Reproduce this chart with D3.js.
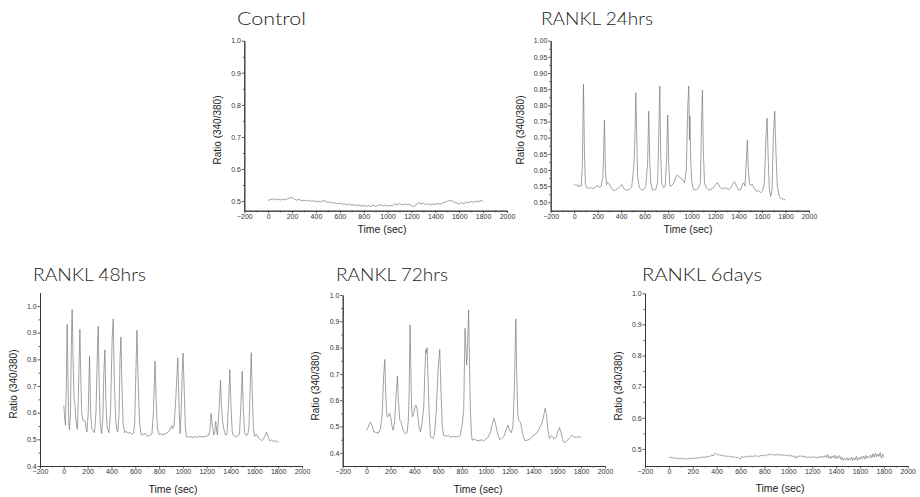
<!DOCTYPE html>
<html>
<head>
<meta charset="utf-8">
<script src="https://cdn.jsdelivr.net/npm/d3@7"></script>
<style>
  body { margin: 0; background: #fff; }
  .tick text { font-family: "Liberation Sans", Arial, sans-serif; font-size: 7px; fill: #333; }
  .axis path, .axis line { stroke: #333; }
  .title { font-family: Lato, "Open Sans", sans-serif; font-weight: 300; font-size: 18.5px; fill: #222; }
  .atitle { font-family: "Liberation Sans", Arial, sans-serif; font-size: 10.5px; fill: #222; }
</style>
</head>
<body>
<svg id="chart" width="920" height="497"></svg>
<script>
// x ticks shared by all five panels
const xTicks = [-200, 0, 200, 400, 600, 800, 1000, 1200, 1400, 1600, 1800, 2000];
const xMinor = [-100, 100, 300, 500, 700, 900, 1100, 1300, 1500, 1700, 1900];

// Control, sampled every 20 s
const controlRatio = [
  0.502,0.505,0.507,0.504,0.506,0.503,0.506,0.504,0.507,0.509,
  0.512,0.506,0.503,0.505,0.501,0.503,0.500,0.503,0.499,0.501,
  0.498,0.500,0.497,0.502,0.499,0.496,0.497,0.493,0.495,0.491,
  0.494,0.490,0.492,0.488,0.491,0.487,0.489,0.485,0.488,0.484,
  0.487,0.483,0.486,0.484,0.487,0.483,0.486,0.489,0.485,0.488,
  0.484,0.487,0.485,0.491,0.489,0.492,0.488,0.491,0.489,0.490,
  0.486,0.483,0.489,0.495,0.491,0.493,0.489,0.492,0.488,0.491,
  0.489,0.493,0.490,0.494,0.497,0.499,0.503,0.500,0.496,0.494,
  0.491,0.495,0.492,0.497,0.495,0.499,0.496,0.500,0.498,0.502,
  0.499
];

// RANKL 6days, sampled every 10 s
const sixDaysRatio = [
  0.473,0.471,0.474,0.470,0.472,0.469,0.471,0.468,0.470,0.469,
  0.471,0.467,0.470,0.468,0.469,0.466,0.470,0.468,0.471,0.467,
  0.469,0.472,0.468,0.471,0.469,0.473,0.470,0.474,0.471,0.475,
  0.472,0.476,0.473,0.477,0.474,0.478,0.480,0.477,0.482,0.487,
  0.483,0.480,0.482,0.478,0.481,0.477,0.479,0.476,0.478,0.475,
  0.477,0.474,0.476,0.473,0.475,0.472,0.474,0.471,0.473,0.469,
  0.467,0.476,0.472,0.475,0.473,0.477,0.474,0.478,0.475,0.477,
  0.474,0.478,0.476,0.479,0.475,0.478,0.476,0.480,0.477,0.479,
  0.478,0.481,0.479,0.483,0.480,0.484,0.481,0.483,0.479,0.482,
  0.480,0.484,0.479,0.482,0.478,0.483,0.479,0.481,0.477,0.480,
  0.478,0.481,0.476,0.479,0.475,0.478,0.470,0.476,0.473,0.478,
  0.475,0.479,0.474,0.477,0.473,0.476,0.472,0.475,0.471,0.474,
  0.472,0.476,0.471,0.474,0.470,0.475,0.472,0.477,0.471,0.476,
  0.473,0.479,0.472,0.482,0.470,0.477,0.469,0.478,0.471,0.480,
  0.468,0.476,0.470,0.479,0.466,0.473,0.463,0.470,0.465,0.472,
  0.463,0.470,0.464,0.474,0.462,0.471,0.465,0.476,0.463,0.472,
  0.466,0.475,0.468,0.477,0.467,0.479,0.470,0.476,0.472,0.481,
  0.471,0.484,0.473,0.486,0.474,0.483,0.476,0.488,0.470,0.484,
  0.474
];

// [time (sec), ratio]
const rankl24 = [
  [0,0.556],[10,0.553],[20,0.551],[30,0.555],[40,0.548],[50,0.552],[60,0.55],[70,0.62],[79,0.866],[88,0.65],
  [95,0.56],[105,0.545],[120,0.543],[140,0.546],[160,0.542],[180,0.547],[200,0.552],[215,0.546],[230,0.55],[245,0.58],
  [258,0.755],[266,0.6],[275,0.555],[285,0.562],[295,0.558],[310,0.548],[325,0.54],[340,0.536],[360,0.54],[380,0.545],
  [395,0.55],[405,0.555],[415,0.548],[430,0.54],[450,0.537],[470,0.54],[490,0.548],[505,0.6],[513,0.648],[520,0.75],
  [525,0.839],[532,0.72],[540,0.58],[555,0.545],[575,0.538],[595,0.54],[610,0.55],[625,0.62],[635,0.782],[644,0.62],
  [652,0.56],[665,0.54],[680,0.538],[695,0.54],[710,0.56],[720,0.7],[729,0.86],[737,0.65],[745,0.56],[760,0.545],
  [775,0.55],[787,0.63],[797,0.77],[805,0.62],[815,0.55],[830,0.552],[850,0.56],[865,0.578],[880,0.585],[895,0.578],
  [910,0.575],[925,0.568],[940,0.56],[955,0.6],[968,0.8],[976,0.86],[982,0.693],[986,0.767],[993,0.62],[1003,0.56],
  [1015,0.54],[1035,0.538],[1055,0.542],[1075,0.56],[1085,0.75],[1092,0.847],[1100,0.66],[1110,0.56],[1125,0.545],[1145,0.538],
  [1165,0.54],[1185,0.545],[1200,0.552],[1220,0.561],[1240,0.548],[1260,0.54],[1280,0.545],[1300,0.542],[1320,0.54],[1340,0.548],
  [1355,0.56],[1365,0.564],[1380,0.552],[1400,0.538],[1420,0.54],[1435,0.558],[1445,0.56],[1455,0.55],[1462,0.6],[1475,0.693],
  [1483,0.6],[1495,0.555],[1508,0.553],[1518,0.556],[1530,0.545],[1550,0.535],[1570,0.535],[1590,0.53],[1605,0.535],[1620,0.56],
  [1633,0.7],[1643,0.76],[1652,0.64],[1662,0.54],[1674,0.518],[1685,0.54],[1696,0.7],[1708,0.782],[1718,0.66],[1730,0.55],
  [1745,0.52],[1760,0.512],[1780,0.51],[1800,0.507]
];

const rankl48 = [
  [0,0.626],[7,0.58],[14,0.553],[21,0.7],[28,0.931],[36,0.7],[42,0.56],[48,0.535],[56,0.6],[63,0.85],
  [70,0.987],[78,0.8],[86,0.65],[93,0.634],[100,0.58],[108,0.545],[115,0.538],[124,0.7],[135,0.912],[143,0.72],
  [150,0.6],[160,0.572],[170,0.57],[180,0.567],[187,0.54],[194,0.528],[205,0.6],[216,0.811],[225,0.6],[235,0.54],
  [248,0.53],[258,0.525],[270,0.6],[283,0.85],[289,0.924],[297,0.7],[306,0.56],[317,0.522],[328,0.58],[336,0.75],
  [345,0.836],[353,0.65],[362,0.55],[370,0.535],[379,0.525],[392,0.6],[406,0.88],[415,0.952],[424,0.72],[435,0.58],
  [445,0.535],[454,0.528],[464,0.6],[472,0.8],[480,0.884],[488,0.7],[498,0.56],[510,0.525],[525,0.53],[540,0.522],
  [555,0.527],[570,0.52],[585,0.522],[595,0.56],[605,0.75],[614,0.909],[624,0.72],[636,0.56],[651,0.516],[665,0.518],
  [684,0.522],[700,0.512],[720,0.514],[740,0.52],[752,0.6],[766,0.793],[775,0.65],[786,0.54],[800,0.519],[818,0.52],
  [833,0.517],[850,0.52],[870,0.525],[890,0.535],[906,0.551],[915,0.54],[925,0.548],[940,0.65],[957,0.806],[966,0.65],
  [976,0.522],[985,0.6],[994,0.75],[1001,0.824],[1010,0.7],[1020,0.55],[1029,0.51],[1045,0.508],[1060,0.511],[1080,0.507],
  [1100,0.51],[1120,0.508],[1140,0.511],[1160,0.509],[1180,0.51],[1200,0.512],[1215,0.515],[1226,0.53],[1237,0.597],[1248,0.55],
  [1259,0.516],[1268,0.53],[1276,0.568],[1283,0.535],[1290,0.516],[1302,0.6],[1316,0.722],[1324,0.62],[1332,0.572],[1345,0.535],
  [1358,0.516],[1370,0.52],[1382,0.62],[1394,0.762],[1404,0.62],[1414,0.53],[1422,0.516],[1440,0.51],[1460,0.512],[1475,0.52],
  [1486,0.62],[1498,0.755],[1507,0.62],[1518,0.525],[1529,0.516],[1545,0.518],[1555,0.55],[1565,0.7],[1574,0.825],[1582,0.68],
  [1592,0.54],[1602,0.511],[1618,0.52],[1632,0.505],[1648,0.5],[1661,0.495],[1675,0.5],[1690,0.515],[1703,0.527],[1715,0.51],
  [1731,0.494],[1745,0.498],[1760,0.492],[1775,0.495],[1790,0.49],[1800,0.491]
];

const rankl72 = [
  [0,0.486],[12,0.495],[22,0.508],[33,0.517],[45,0.505],[61,0.48],[80,0.478],[98,0.474],[115,0.49],[128,0.53],
  [134,0.575],[142,0.68],[153,0.755],[160,0.64],[167,0.56],[173,0.537],[183,0.54],[195,0.55],[205,0.53],[214,0.5],
  [223,0.486],[236,0.52],[248,0.62],[259,0.692],[267,0.6],[279,0.524],[287,0.52],[297,0.505],[307,0.486],[318,0.478],
  [329,0.471],[340,0.478],[350,0.52],[357,0.62],[365,0.886],[372,0.7],[379,0.56],[385,0.537],[395,0.55],[410,0.581],
  [420,0.578],[428,0.55],[440,0.5],[452,0.48],[465,0.51],[480,0.575],[490,0.72],[497,0.793],[502,0.78],[508,0.8],
  [515,0.7],[525,0.55],[536,0.461],[548,0.458],[558,0.455],[570,0.47],[585,0.56],[600,0.72],[614,0.793],[624,0.64],
  [635,0.5],[647,0.467],[665,0.463],[685,0.466],[705,0.46],[725,0.463],[745,0.46],[765,0.462],[785,0.466],[800,0.5],
  [815,0.562],[826,0.873],[833,0.8],[840,0.734],[848,0.82],[856,0.943],[864,0.72],[872,0.55],[880,0.47],[887,0.448],
  [905,0.452],[925,0.447],[948,0.446],[965,0.45],[980,0.445],[1000,0.452],[1020,0.46],[1040,0.48],[1055,0.51],[1068,0.531],
  [1080,0.515],[1095,0.48],[1116,0.451],[1135,0.455],[1155,0.465],[1172,0.49],[1186,0.505],[1200,0.485],[1213,0.476],[1228,0.5],
  [1240,0.65],[1252,0.909],[1260,0.7],[1268,0.55],[1275,0.524],[1285,0.52],[1295,0.51],[1310,0.47],[1328,0.446],[1345,0.448],
  [1365,0.45],[1380,0.458],[1395,0.465],[1415,0.47],[1435,0.48],[1456,0.499],[1470,0.51],[1485,0.54],[1498,0.569],[1508,0.55],
  [1520,0.49],[1534,0.455],[1550,0.465],[1565,0.46],[1576,0.452],[1590,0.46],[1605,0.48],[1618,0.496],[1630,0.48],[1645,0.45],
  [1660,0.438],[1680,0.445],[1700,0.455],[1712,0.462],[1724,0.467],[1740,0.46],[1760,0.458],[1780,0.462],[1800,0.458]
];

// panel layout
const panels = [
  { title: "Control", titleX: 237, titleY: 25, titleLen: 69,
    data: controlRatio.map((v, i) => [i * 20, v]),
    x0: 244.3, x1: 507, yTop: 40.7, yBot: 210.7, yDomain: [0.47, 1.0],
    yTicks: [0.5, 0.6, 0.7, 0.8, 0.9, 1.0], yMinor: [0.55, 0.65, 0.75, 0.85, 0.95], fmt: ".1f",
    yLabelX: 221, yLabelY: 130, xLabelX: 382, xLabelY: 233 },
  { title: "RANKL 24hrs", titleX: 541, titleY: 25, titleLen: 112,
    data: rankl24,
    x0: 550.7, x1: 809, yTop: 40.7, yBot: 210.7, yDomain: [0.474, 1.0],
    yTicks: [0.5, 0.55, 0.6, 0.65, 0.7, 0.75, 0.8, 0.85, 0.9, 0.95, 1.0],
    yMinor: [0.525, 0.575, 0.625, 0.675, 0.725, 0.775, 0.825, 0.875, 0.925, 0.975], fmt: ".2f",
    yLabelX: 524, yLabelY: 130, xLabelX: 688, xLabelY: 233 },
  { title: "RANKL 48hrs", titleX: 33, titleY: 281, titleLen: 113,
    data: rankl48,
    x0: 40, x1: 302, yTop: 292.7, yBot: 466, yDomain: [0.4, 1.05],
    yTicks: [0.4, 0.5, 0.6, 0.7, 0.8, 0.9, 1.0], yMinor: [0.45, 0.55, 0.65, 0.75, 0.85, 0.95], fmt: ".1f",
    yLabelX: 17, yLabelY: 384, xLabelX: 173, xLabelY: 493 },
  { title: "RANKL 72hrs", titleX: 336, titleY: 281, titleLen: 112,
    data: rankl72,
    x0: 342.7, x1: 605, yTop: 295, yBot: 466, yDomain: [0.35, 1.0],
    yTicks: [0.4, 0.5, 0.6, 0.7, 0.8, 0.9, 1.0], yMinor: [0.45, 0.55, 0.65, 0.75, 0.85, 0.95], fmt: ".1f",
    yLabelX: 319, yLabelY: 386, xLabelX: 478, xLabelY: 493 },
  { title: "RANKL 6days", titleX: 642, titleY: 281, titleLen: 120,
    data: sixDaysRatio.map((v, i) => [i * 10, v]),
    x0: 645, x1: 907.7, yTop: 293.3, yBot: 466, yDomain: [0.445, 1.0],
    yTicks: [0.5, 0.6, 0.7, 0.8, 0.9, 1.0], yMinor: [0.55, 0.65, 0.75, 0.85, 0.95], fmt: ".1f",
    yLabelX: 622, yLabelY: 386, xLabelX: 780, xLabelY: 492 }
];

const svg = d3.select('#chart');

panels.forEach(p => {
  const x = d3.scaleLinear().domain([-200, 2000]).range([p.x0, p.x1]);
  const y = d3.scaleLinear().domain(p.yDomain).range([p.yBot, p.yTop]);
  const g = svg.append('g');

  // minor ticks first, then major axis on top
  g.append('g').attr('class', 'axis')
    .attr('transform', `translate(0,${p.yBot})`)
    .call(d3.axisBottom(x).tickValues(xMinor).tickFormat('').tickSize(1.5).tickSizeOuter(0));
  g.append('g').attr('class', 'axis')
    .attr('transform', `translate(0,${p.yBot})`)
    .call(d3.axisBottom(x).tickValues(xTicks).tickFormat(d3.format('d')).tickSize(2.5).tickPadding(0.8).tickSizeOuter(0));

  g.append('g').attr('class', 'axis')
    .attr('transform', `translate(${p.x0},0)`)
    .call(d3.axisLeft(y).tickValues(p.yMinor).tickFormat('').tickSize(1.5).tickSizeOuter(0));
  g.append('g').attr('class', 'axis')
    .attr('transform', `translate(${p.x0},0)`)
    .call(d3.axisLeft(y).tickValues(p.yTicks).tickFormat(d3.format(p.fmt)).tickSize(2.5).tickPadding(0.8).tickSizeOuter(0));

  g.selectAll('.domain').attr('stroke-width', 0.9);
  g.selectAll('.tick line').attr('stroke-width', 0.8);

  const line = d3.line().x(d => x(d[0])).y(d => y(d[1]));
  g.append('path')
    .datum(p.data)
    .attr('d', line)
    .attr('fill', 'none')
    .attr('stroke', '#7a7a7a')
    .attr('stroke-width', 0.7)
    .attr('stroke-linejoin', 'round');

  g.append('text').attr('class', 'title')
    .attr('x', p.titleX).attr('y', p.titleY)
    .attr('textLength', p.titleLen).attr('lengthAdjust', 'spacingAndGlyphs')
    .text(p.title);

  g.append('text').attr('class', 'atitle')
    .attr('x', p.xLabelX).attr('y', p.xLabelY)
    .attr('text-anchor', 'middle')
    .text('Time (sec)');

  g.append('text').attr('class', 'atitle')
    .attr('transform', `translate(${p.yLabelX},${p.yLabelY}) rotate(-90)`)
    .attr('text-anchor', 'middle')
    .style('font-size', '10px')
    .text('Ratio (340/380)');
});
</script>
</body>
</html>
